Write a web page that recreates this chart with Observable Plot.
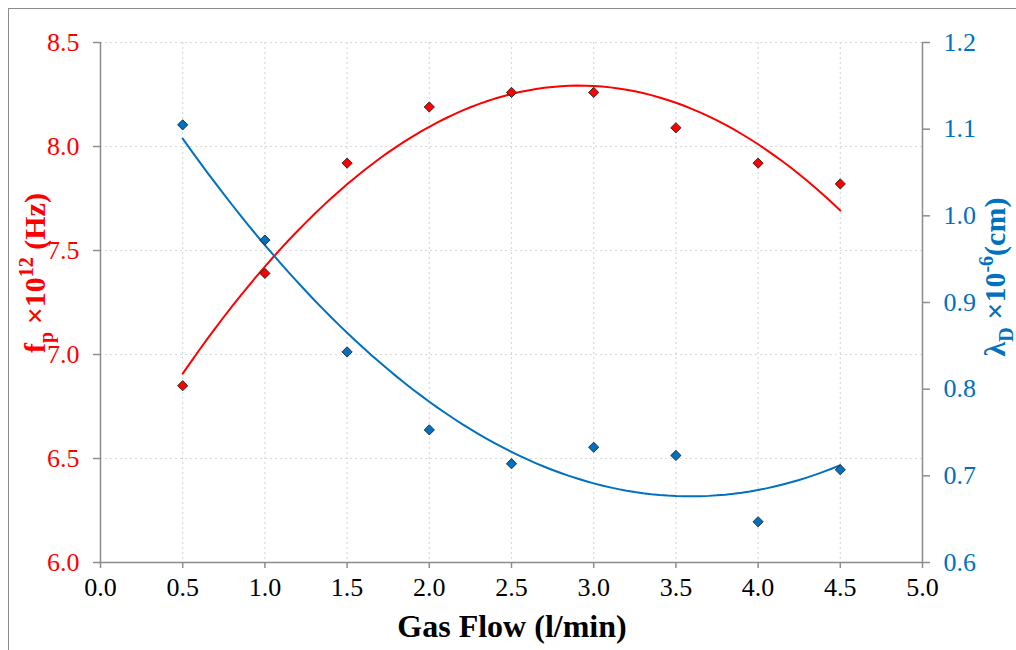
<!DOCTYPE html>
<html><head><meta charset="utf-8">
<script src="https://cdn.jsdelivr.net/npm/d3@7"></script>
<script src="https://cdn.jsdelivr.net/npm/@observablehq/plot@0.6"></script>
<style>
body{margin:0;background:#fff;}
#chart{position:absolute;left:0;top:0;}
#chart svg, #chart svg text{font-family:"Liberation Serif","Times New Roman",serif !important;}
#frame{position:absolute;left:8px;top:8px;width:1100px;height:700px;border:1.5px solid #8c8c8c;box-sizing:border-box;pointer-events:none;}
</style></head><body>
<div id="chart"></div><div id="frame"></div>
<script>
// Data
const gasFlow = [0.5, 1.0, 1.5, 2.0, 2.5, 3.0, 3.5, 4.0, 4.5];
const plasmaFreq = [6.85, 7.39, 7.92, 8.19, 8.26, 8.26, 8.09, 7.92, 7.82];   // f_p x10^12 Hz (left axis)
const debyeLength = [1.105, 0.972, 0.843, 0.753, 0.714, 0.733, 0.7235, 0.647, 0.707]; // lambda_D x10^-6 cm (right axis)
const xTicks = [0, 0.5, 1.0, 1.5, 2.0, 2.5, 3.0, 3.5, 4.0, 4.5, 5.0];
const leftTicks = [6.0, 6.5, 7.0, 7.5, 8.0, 8.5];
const rightTicks = [0.6, 0.7, 0.8, 0.9, 1.0, 1.1, 1.2];

const leftDomain = [6.0, 8.5];
const rightDomain = [0.6, 1.2];
const toLeft = v => leftDomain[0] + (v - rightDomain[0]) / (rightDomain[1] - rightDomain[0]) * (leftDomain[1] - leftDomain[0]);
const fromLeft = v => rightDomain[0] + (v - leftDomain[0]) / (leftDomain[1] - leftDomain[0]) * (rightDomain[1] - rightDomain[0]);

// 2nd-order polynomial least-squares trendline (as in the original)
function quadFit(xs, ys) {
  let S = [0,0,0,0,0], T = [0,0,0];
  xs.forEach((x, i) => {
    for (let k = 0; k < 5; k++) S[k] += x ** k;
    for (let k = 0; k < 3; k++) T[k] += ys[i] * x ** k;
  });
  const A = [[S[0],S[1],S[2],T[0]],[S[1],S[2],S[3],T[1]],[S[2],S[3],S[4],T[2]]];
  for (let i = 0; i < 3; i++) {
    for (let j = i + 1; j < 3; j++) {
      const f = A[j][i] / A[i][i];
      for (let k = i; k < 4; k++) A[j][k] -= f * A[i][k];
    }
  }
  const c = [0,0,0];
  for (let i = 2; i >= 0; i--) {
    let s = A[i][3];
    for (let k = i + 1; k < 3; k++) s -= A[i][k] * c[k];
    c[i] = s / A[i][i];
  }
  return x => c[0] + c[1] * x + c[2] * x * x;
}
const fitF = quadFit(gasFlow, plasmaFreq);
const fitL = quadFit(gasFlow, debyeLength);
const xs = d3.range(0.5, 4.5001, 0.05);
const trendF = xs.map(x => ({x, y: fitF(x)}));
const trendL = xs.map(x => ({x, y: toLeft(fitL(x))}));
const ptsF = gasFlow.map((x, i) => ({x, y: plasmaFreq[i]}));
const ptsL = gasFlow.map((x, i) => ({x, y: toLeft(debyeLength[i])}));

const RED = "#ff0000", BLUE = "#0070c0", AX = "#8c8c8c", GRID = "#d9d9d9";
const FONT = "Liberation Serif";

const plot = Plot.plot({
  width: 1016, height: 650,
  marginLeft: 100, marginRight: 94, marginTop: 42, marginBottom: 88,
  x: {domain: [0, 5]},
  y: {domain: leftDomain},
  style: {fontFamily: FONT, fontSize: "26px", background: "transparent", overflow: "visible"},
  marks: [
    Plot.gridX({ticks: xTicks.slice(1, -1), stroke: GRID, strokeOpacity: 1, strokeDasharray: "2,3", strokeWidth: 1.2}),
    Plot.gridY({ticks: leftTicks.slice(1), stroke: GRID, strokeOpacity: 1, strokeDasharray: "2,3", strokeWidth: 1.2}),
    Plot.ruleY([leftDomain[0]], {stroke: AX, strokeWidth: 1.5}),
    Plot.ruleX([0], {stroke: AX, strokeWidth: 1.5}),
    Plot.ruleX([5], {stroke: AX, strokeWidth: 1.5}),
    Plot.axisX({ticks: xTicks, tickFormat: d => d.toFixed(1), tickSize: 6, tickPadding: 9, stroke: AX, strokeWidth: 1.5, fill: "black", label: null, fontSize: 26, fontFamily: FONT}),
    Plot.axisY({anchor: "left", ticks: leftTicks, tickFormat: d => d.toFixed(1), tickSize: 7, tickPadding: 14, stroke: AX, strokeWidth: 1.5, fill: RED, label: null, fontSize: 26, fontFamily: FONT}),
    Plot.axisY({anchor: "right", ticks: rightTicks.map(toLeft), tickFormat: d => fromLeft(d).toFixed(1), tickSize: 7, tickPadding: 14, stroke: AX, strokeWidth: 1.5, fill: BLUE, label: null, fontSize: 26, fontFamily: FONT}),
    Plot.line(trendF, {x: "x", y: "y", stroke: RED, strokeWidth: 2}),
    Plot.line(trendL, {x: "x", y: "y", stroke: BLUE, strokeWidth: 2}),
    Plot.dot(ptsF, {x: "x", y: "y", symbol: "diamond2", r: 4.6, fill: RED, stroke: "#222", strokeWidth: 0.9}),
    Plot.dot(ptsL, {x: "x", y: "y", symbol: "diamond2", r: 4.6, fill: BLUE, stroke: "#222", strokeWidth: 0.9})
  ]
});
document.getElementById("chart").appendChild(plot);

const svg = d3.select(plot);
const font = "'Liberation Serif', 'Times New Roman', serif";
// x title
svg.append("text").attr("x", 512).attr("y", 637).attr("text-anchor", "middle")
  .attr("font-family", font).attr("font-size", 32).attr("font-weight", "bold").attr("fill", "black")
  .text("Gas Flow (l/min)");
// left title
const lt = svg.append("text").attr("transform", "translate(45,273) rotate(-90)").attr("text-anchor", "middle")
  .attr("font-family", font).attr("font-size", 30).attr("font-weight", "bold").attr("fill", RED);
lt.append("tspan").text("f");
lt.append("tspan").attr("font-size", 20).attr("dy", 8).text("p");
lt.append("tspan").attr("dy", -8).text(" ×10");
lt.append("tspan").attr("font-size", 20).attr("dy", -12).text("12");
lt.append("tspan").attr("dy", 12).text(" (Hz)");
// right title
const rt = svg.append("text").attr("transform", "translate(1005,277) rotate(-90)").attr("text-anchor", "middle")
  .attr("font-family", font).attr("font-size", 30).attr("font-weight", "bold").attr("fill", BLUE);
rt.append("tspan").text("λ");
rt.append("tspan").attr("font-size", 20).attr("dy", 8).text("D");
rt.append("tspan").attr("dy", -8).text(" ×10");
rt.append("tspan").attr("font-size", 20).attr("dy", -12).text("-6");
rt.append("tspan").attr("dy", 12).text("(cm)");
</script>
</body></html>
